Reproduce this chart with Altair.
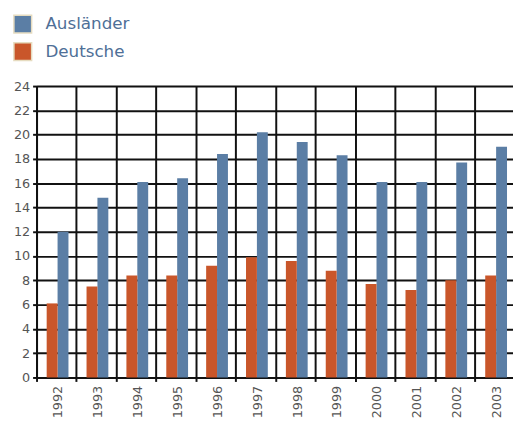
import altair as alt
import pandas as pd

years = ["1992", "1993", "1994", "1995", "1996", "1997",
         "1998", "1999", "2000", "2001", "2002", "2003"]
auslaender = [12.0, 14.8, 16.1, 16.4, 18.4, 20.2, 19.4, 18.3, 16.1, 16.1, 17.7, 19.0]
deutsche = [6.1, 7.5, 8.4, 8.4, 9.2, 9.9, 9.6, 8.8, 7.7, 7.2, 8.0, 8.4]
groups = ["Ausländer", "Deutsche"]
y_ticks = list(range(0, 25, 2))

rows = []
for yr, a, d in zip(years, auslaender, deutsche):
    rows.append({"Jahr": yr, "Gruppe": "Ausländer", "Wert": a})
    rows.append({"Jahr": yr, "Gruppe": "Deutsche", "Wert": d})
df = pd.DataFrame(rows)

BLUE = "#5b7ea5"
ORANGE = "#c9562a"
FONT = "DejaVu Sans"

chart = alt.Chart(df).mark_bar().encode(
    x=alt.X(
        "Jahr:N", sort=years, title=None,
        scale=alt.Scale(range=[0, 486], paddingInner=0, paddingOuter=0),
        axis=alt.Axis(
            bandPosition=0, labelOffset=2, labelAngle=-90,
            labelFont=FONT, labelFontSize=13, labelColor="#555555",
            labelPadding=4, tickSize=4, tickColor="#111111", tickWidth=2,
            domainColor="#111111", domainWidth=2,
            grid=True, gridColor="#111111", gridWidth=2, gridOpacity=1,
            labelOverlap=False,
        ),
    ),
    xOffset=alt.XOffset(
        "Gruppe:N", sort=["Deutsche", "Ausländer"],
        scale=alt.Scale(paddingInner=0, paddingOuter=0.83, align=0.56),
    ),
    y=alt.Y(
        "Wert:Q", title=None,
        scale=alt.Scale(domain=[0, 24], nice=False),
        axis=alt.Axis(
            values=y_ticks, labelFont=FONT, labelFontSize=13, labelColor="#555555",
            labelPadding=3, tickSize=4, tickColor="#111111", tickWidth=2,
            domainColor="#111111", domainWidth=2,
            grid=True, gridColor="#111111", gridWidth=2, gridOpacity=1,
        ),
    ),
    color=alt.Color(
        "Gruppe:N",
        scale=alt.Scale(domain=groups, range=[BLUE, ORANGE]),
        legend=alt.Legend(
            title=None, orient="none", legendX=-24, legendY=-73, padding=0,
            symbolType="square", symbolSize=324, symbolStrokeColor="#e6dcc0",
            symbolStrokeWidth=1.5, symbolOpacity=1,
            labelFont=FONT, labelFontSize=17, labelColor="#4f6f97",
            labelOffset=13, rowPadding=4,
        ),
    ),
).properties(
    width=484, height=296,
    autosize=alt.AutoSizeParams(type="none"),
    padding={"left": 29, "top": 76, "right": 0, "bottom": 47},
).configure_view(stroke=None)

chart.save("out.html", embed_options={"renderer": "svg", "actions": False})
